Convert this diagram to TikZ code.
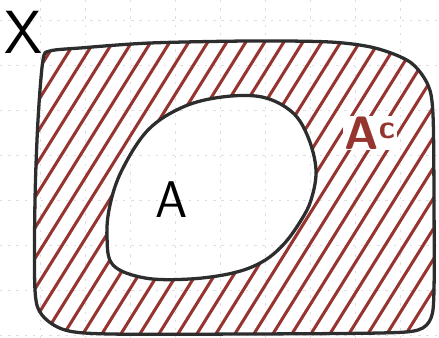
\documentclass[tikz,border=0pt]{standalone}
\usepackage{tikz}
\usetikzlibrary{positioning}
\definecolor{hatchred}{RGB}{150,52,48}
\definecolor{inkgray}{RGB}{45,45,45}
\definecolor{gridgray}{RGB}{222,222,222}
\tikzset{every picture/.append style={thick}}
\tikzset{
  gridline/.style={gridgray, line width=0.6pt, dash pattern=on 2pt off 5pt},
  hatchline/.style={hatchred, line width=2.6pt, line cap=round},
  outline/.style={inkgray, line width=2.8pt, line join=round},
  handlabel/.style={font=\sffamily\fontsize{44}{48}\selectfont, inner sep=1pt}
}
\newcommand{\outerline}{plot[smooth cycle, tension=0.5] coordinates {(43,60) (50,51) (80,48) (150,43) (250,41) (330,42) (375,48) (410,62) (428,85) (433,115) (434,200) (434,290) (431,318) (418,330) (380,333) (250,334) (110,334) (65,330) (42,315) (35,290) (35,200) (38,120)}}
\newcommand{\blobline}{plot[smooth cycle, tension=0.6] coordinates {(316,170) (311,200) (300,222) (283,245) (262,262) (233,273) (190,279) (145,278) (113,265) (107,237) (110,205) (122,170) (148,130) (183,107) (222,97) (262,97) (292,112) (308,137)}}
\newcommand{\gridlines}{%
    \foreach \gx in {40,85,...,439} \draw[gridline] (\gx,0) -- (\gx,338);
    \foreach \gy in {20,65,...,338} \draw[gridline] (0,\gy) -- (439,\gy);}

\begin{document}
\begin{tikzpicture}[x=0.03cm, y=-0.03cm]
    \useasboundingbox (0,0) rectangle (439,338);

    % Grid lines
    \gridlines

    % Hatching of the complement
    \begin{scope}
        \clip \outerline;
        \foreach \hx in {-190,-171,...,440}
            \draw[hatchline] (\hx,345) -- ++(215,-345);
    \end{scope}

    % Set A left blank
    \fill[white] \blobline;
    \begin{scope}
        \clip \blobline;
        \gridlines
    \end{scope}

    % Outlines
    \draw[outline] \outerline;
    \draw[outline] \blobline;

    % Labels
    \node[handlabel, font=\sffamily\fontsize{52}{56}\selectfont] (setX) at (24,32) {X};
    \node[handlabel] (setA) at (172,200) {A};
    \node[handlabel, hatchred, fill=white, font=\sffamily\bfseries\fontsize{40}{44}\selectfont] (setAc) at (370,133) {A\textsuperscript{c}};
\end{tikzpicture}
\end{document}
